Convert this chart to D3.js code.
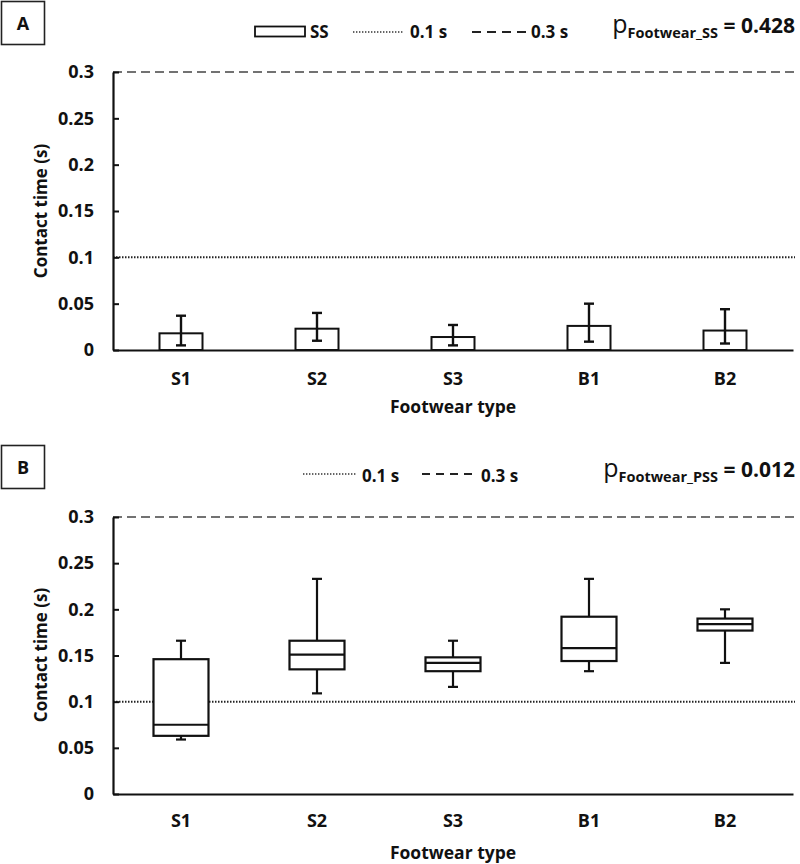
<!DOCTYPE html>
<html>
<head>
<meta charset="utf-8">
<script src="https://cdn.jsdelivr.net/npm/d3@7"></script>
<style>
  html, body { margin: 0; padding: 0; background: #fff; }
  svg { display: block; }
  text { font-family: "Open Sans", Lato, sans-serif; font-weight: bold; fill: #111; }
</style>
</head>
<body>
<svg id="chart" width="800" height="864"></svg>
<script>
// ---------- data ----------
const categories = ["S1", "S2", "S3", "B1", "B2"];
// Panel A (SS): bar value with lower/upper error limits
const ssValue = [0.018, 0.023, 0.014, 0.026, 0.021];
const ssLow   = [0.005, 0.010, 0.005, 0.009, 0.007];
const ssHigh  = [0.037, 0.040, 0.027, 0.050, 0.044];
// Panel B (PSS): box-plot summary
const pssMin    = [0.059, 0.109, 0.116, 0.133, 0.142];
const pssQ1     = [0.063, 0.135, 0.133, 0.144, 0.177];
const pssMedian = [0.075, 0.151, 0.142, 0.158, 0.184];
const pssQ3     = [0.146, 0.166, 0.148, 0.192, 0.190];
const pssMax    = [0.166, 0.233, 0.166, 0.233, 0.200];
const yTicks = [0, 0.05, 0.1, 0.15, 0.2, 0.25, 0.3];
const refDotted = 0.1;
const refDashed = 0.3;
const panelLetters = ["A", "B"];
const pLabels = [{sub: "Footwear_SS", val: "= 0.428"}, {sub: "Footwear_PSS", val: "= 0.012"}];
const yTitles = ["Contact time  (s)", "Contact time (s)"];
const xTitle = "Footwear type";

// ---------- drawing ----------
const svg = d3.select("#chart");
const left = 113, right = 793;
const fmt = d => String(+d.toFixed(2));
const FONT = "'Open Sans', Lato, sans-serif";

function panel(cfg) {
  const g = svg.append("g");
  const x = d3.scaleBand().domain(categories).range([left, right]).paddingInner(0).paddingOuter(0);
  const y = d3.scaleLinear().domain([0, 0.3]).range([cfg.bottom, cfg.top]);

  // reference lines
  g.append("line").attr("x1", left).attr("x2", right + 2)
    .attr("y1", y(refDashed)).attr("y2", y(refDashed))
    .attr("stroke", "#444").attr("stroke-width", 1.6).attr("stroke-dasharray", "9,5");
  g.append("line").attr("x1", left).attr("x2", right + 2)
    .attr("y1", y(refDotted)).attr("y2", y(refDotted))
    .attr("stroke", "#222").attr("stroke-width", 2).attr("stroke-dasharray", "1.5,1.5");

  // y axis
  const yAxis = d3.axisLeft(y).tickValues(yTicks).tickFormat(fmt).tickSizeInner(-6).tickSizeOuter(0).tickPadding(19);
  const ya = g.append("g").attr("transform", `translate(${left},0)`).call(yAxis);
  ya.select(".domain").attr("stroke", "#111").attr("stroke-width", 2.2);
  ya.selectAll(".tick line").attr("stroke", "#111").attr("stroke-width", 2);
  ya.selectAll(".tick text").style("font-size", "18px").style("font-family", FONT).style("font-weight", "bold").attr("fill", "#111");

  // x axis
  const xAxis = d3.axisBottom(x).tickSize(0).tickPadding(cfg.xPad);
  const xa = g.append("g").attr("transform", `translate(0,${cfg.bottom})`).call(xAxis);
  xa.select(".domain").attr("stroke", "#111").attr("stroke-width", 2.2);
  xa.selectAll(".tick text").style("font-size", "18px").style("font-family", FONT).style("font-weight", "bold").attr("fill", "#111");

  // titles
  g.append("text").attr("transform", `translate(47,${cfg.yTitleY}) rotate(-90)`)
    .attr("text-anchor", "middle").style("font-size", "17px").text(cfg.yTitle);
  g.append("text").attr("x", 453).attr("y", cfg.xTitleY).attr("text-anchor", "middle")
    .style("font-size", "17.5px").text(xTitle);

  // panel letter box
  g.append("rect").attr("x", 1.5).attr("y", cfg.boxY).attr("width", 43).attr("height", 43)
    .attr("fill", "none").attr("stroke", "#222").attr("stroke-width", 1.6);
  g.append("text").attr("x", 23).attr("y", cfg.boxY + 28).attr("text-anchor", "middle")
    .style("font-size", "18px").text(cfg.letter);

  // p value
  const pt = g.append("text").attr("x", 795).attr("y", cfg.pY).attr("text-anchor", "end");
  pt.append("tspan").style("font-size", "25px").style("font-weight", "normal").text("p");
  pt.append("tspan").style("font-size", "14.5px").attr("dy", 5).text(cfg.p.sub);
  pt.append("tspan").style("font-size", "21px").attr("dy", -5).text(" " + cfg.p.val);

  return {g, x, y};
}

// ----- Panel A -----
const A = panel({top: 72, bottom: 350, xPad: 22, yTitle: yTitles[0], yTitleY: 211, xTitleY: 413,
  boxY: 1.5, letter: panelLetters[0], pY: 33, p: pLabels[0]});
const barW = 43, capW = 10;
const barsData = categories.map((c, i) => ({c, v: ssValue[i], lo: ssLow[i], hi: ssHigh[i]}));
A.g.selectAll("rect.bar").data(barsData).join("rect").attr("class", "bar")
  .attr("x", d => A.x(d.c) + A.x.bandwidth() / 2 - barW / 2)
  .attr("width", barW)
  .attr("y", d => A.y(d.v))
  .attr("height", d => A.y(0) - A.y(d.v))
  .attr("fill", "#fff").attr("stroke", "#111").attr("stroke-width", 2);
const eb = A.g.selectAll("g.err").data(barsData).join("g").attr("class", "err")
  .attr("transform", d => `translate(${A.x(d.c) + A.x.bandwidth() / 2},0)`)
  .attr("stroke", "#111").attr("stroke-width", 2.4);
eb.append("line").attr("y1", d => A.y(d.lo)).attr("y2", d => A.y(d.hi));
eb.append("line").attr("x1", -capW / 2).attr("x2", capW / 2).attr("y1", d => A.y(d.hi)).attr("y2", d => A.y(d.hi));
eb.append("line").attr("x1", -capW / 2).attr("x2", capW / 2).attr("y1", d => A.y(d.lo)).attr("y2", d => A.y(d.lo));

// legend A
const legA = svg.append("g");
legA.append("rect").attr("x", 255).attr("y", 26.5).attr("width", 50).attr("height", 10)
  .attr("fill", "#fff").attr("stroke", "#111").attr("stroke-width", 1.8);
legA.append("text").attr("x", 310).attr("y", 37.5).style("font-size", "17px").text("SS");
legA.append("line").attr("x1", 353).attr("x2", 403).attr("y1", 32).attr("y2", 32)
  .attr("stroke", "#333").attr("stroke-width", 1.6).attr("stroke-dasharray", "1.4,1.6");
legA.append("text").attr("x", 410).attr("y", 37.5).style("font-size", "17px").text("0.1 s");
legA.append("line").attr("x1", 472).attr("x2", 527).attr("y1", 32).attr("y2", 32)
  .attr("stroke", "#222").attr("stroke-width", 2).attr("stroke-dasharray", "9,6");
legA.append("text").attr("x", 531).attr("y", 37.5).style("font-size", "17px").text("0.3 s");

// ----- Panel B -----
const B = panel({top: 517, bottom: 794, xPad: 20, yTitle: yTitles[1], yTitleY: 655, xTitleY: 859,
  boxY: 445.5, letter: panelLetters[1], pY: 477, p: pLabels[1]});
const boxW = 55;
const boxData = categories.map((c, i) => ({c, mn: pssMin[i], q1: pssQ1[i], md: pssMedian[i], q3: pssQ3[i], mx: pssMax[i]}));
const bx = B.g.selectAll("g.box").data(boxData).join("g").attr("class", "box")
  .attr("transform", d => `translate(${B.x(d.c) + B.x.bandwidth() / 2},0)`)
  .attr("stroke", "#111").attr("stroke-width", 2.2).attr("fill", "none");
bx.append("line").attr("y1", d => B.y(d.q3)).attr("y2", d => B.y(d.mx));
bx.append("line").attr("y1", d => B.y(d.q1)).attr("y2", d => B.y(d.mn));
bx.append("line").attr("x1", -capW / 2).attr("x2", capW / 2).attr("y1", d => B.y(d.mx)).attr("y2", d => B.y(d.mx));
bx.append("line").attr("x1", -capW / 2).attr("x2", capW / 2).attr("y1", d => B.y(d.mn)).attr("y2", d => B.y(d.mn));
bx.append("rect").attr("x", -boxW / 2).attr("width", boxW)
  .attr("y", d => B.y(d.q3)).attr("height", d => B.y(d.q1) - B.y(d.q3)).attr("fill", "#fff");
bx.append("line").attr("x1", -boxW / 2).attr("x2", boxW / 2).attr("y1", d => B.y(d.md)).attr("y2", d => B.y(d.md));

// legend B
const legB = svg.append("g");
legB.append("line").attr("x1", 303).attr("x2", 357).attr("y1", 474).attr("y2", 474)
  .attr("stroke", "#333").attr("stroke-width", 1.6).attr("stroke-dasharray", "1.4,1.6");
legB.append("text").attr("x", 362).attr("y", 481.5).style("font-size", "17px").text("0.1 s");
legB.append("line").attr("x1", 422).attr("x2", 472).attr("y1", 474).attr("y2", 474)
  .attr("stroke", "#222").attr("stroke-width", 2).attr("stroke-dasharray", "8,6");
legB.append("text").attr("x", 481).attr("y", 481.5).style("font-size", "17px").text("0.3 s");
</script>
</body>
</html>
